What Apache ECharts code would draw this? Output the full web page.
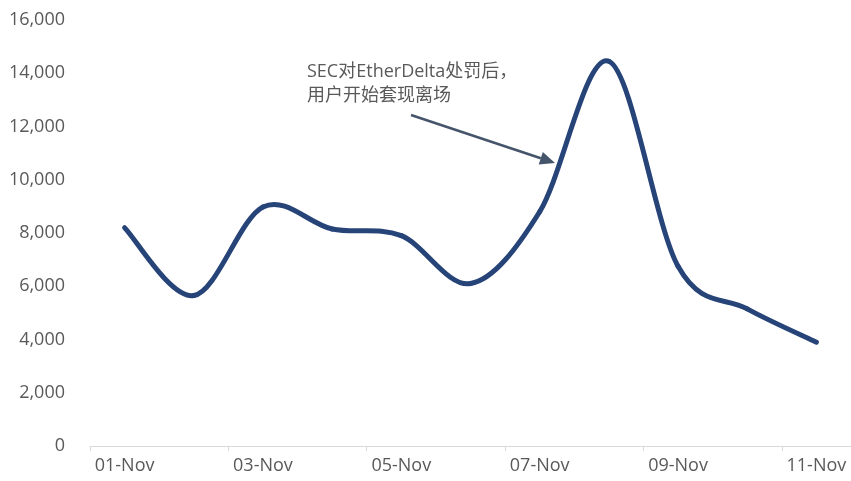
<!DOCTYPE html>
<html>
<head>
<meta charset="utf-8">
<script src="https://cdn.jsdelivr.net/npm/echarts@6/dist/echarts.min.js"></script>
<style>
html,body{margin:0;padding:0;background:#fff;}
#chart{width:851px;height:481px;}
</style>
</head>
<body>
<div id="chart"></div>
<script>
var categories = ['01-Nov','02-Nov','03-Nov','04-Nov','05-Nov','06-Nov','07-Nov','08-Nov','09-Nov','10-Nov','11-Nov'];
var values = [8200, 5650, 8980, 8150, 7900, 6100, 8800, 14450, 6750, 5150, 3900];
var yTicks = [0, 2000, 4000, 6000, 8000, 10000, 12000, 14000, 16000];
var noteLines = ['SEC对EtherDelta处罚后，', '用户开始套现离场'];

var FONT = '"Open Sans", "Noto Sans CJK SC", sans-serif';
var LINE_COLOR = '#264478';
var chart = echarts.init(document.getElementById('chart'), null, {renderer: 'canvas'});

// annotation arrow geometry (annotation only)
var ax0 = 411, ay0 = 115, ax1 = 555, ay1 = 163;
var dx = ax1 - ax0, dy = ay1 - ay0, len = Math.sqrt(dx*dx + dy*dy);
var ux = dx/len, uy = dy/len, headL = 15, headW = 6.5;
var bx = ax1 - ux*headL, by = ay1 - uy*headL;
var headPts = [[ax1, ay1], [bx - uy*headW, by + ux*headW], [bx + uy*headW, by - ux*headW]];

// Excel-style (Catmull-Rom) smoothed segment between data point i and i+1
function renderSegment(params, api) {
  var i = params.dataIndex;
  var n = values.length;
  if (i >= n - 1) return null;
  var P = function (k) {
    k = Math.max(0, Math.min(n - 1, k));
    return api.coord([k, values[k]]);
  };
  var p0 = P(i - 1), p1 = P(i), p2 = P(i + 1), p3 = P(i + 2);
  return {
    type: 'bezierCurve',
    shape: {
      x1: p1[0], y1: p1[1], x2: p2[0], y2: p2[1],
      cpx1: p1[0] + (p2[0] - p0[0]) / 6, cpy1: p1[1] + (p2[1] - p0[1]) / 6,
      cpx2: p2[0] - (p3[0] - p1[0]) / 6, cpy2: p2[1] - (p3[1] - p1[1]) / 6
    },
    style: {stroke: LINE_COLOR, lineWidth: 5, fill: null, lineCap: 'round', lineJoin: 'round'}
  };
}

chart.setOption({
  animation: false,
  grid: {left: 90, right: -4, top: 20, bottom: 35, containLabel: false},
  xAxis: {
    type: 'category',
    data: categories,
    boundaryGap: true,
    axisLine: {show: true, lineStyle: {color: '#d9d9d9', width: 1}},
    axisTick: {show: true, interval: 1, length: 5, lineStyle: {color: '#d9d9d9'}},
    axisLabel: {interval: 1, color: '#595959', fontSize: 18, fontFamily: FONT, margin: 11},
    splitLine: {show: false}
  },
  yAxis: {
    type: 'value',
    min: yTicks[0],
    max: yTicks[yTicks.length - 1],
    interval: 2000,
    axisLine: {show: false},
    axisTick: {show: false},
    splitLine: {show: false},
    axisLabel: {
      color: '#595959', fontSize: 18, fontFamily: FONT, margin: 25,
      formatter: function (v) { return v.toLocaleString('en-US'); }
    }
  },
  series: [{
    type: 'custom',
    name: '用户数',
    data: values.map(function (v, i) { return [i, v]; }),
    encode: {x: 0, y: 1},
    renderItem: renderSegment,
    clip: false
  }],
  graphic: [
    {type: 'text', left: 307, top: 60, style: {text: noteLines.join('\n'), fill: '#595959', font: '18px ' + FONT, lineHeight: 24}},
    {type: 'line', shape: {x1: ax0, y1: ay0, x2: bx, y2: by}, style: {stroke: '#44546A', lineWidth: 2.5}},
    {type: 'polygon', shape: {points: headPts}, style: {fill: '#44546A'}}
  ]
});
</script>
</body>
</html>
